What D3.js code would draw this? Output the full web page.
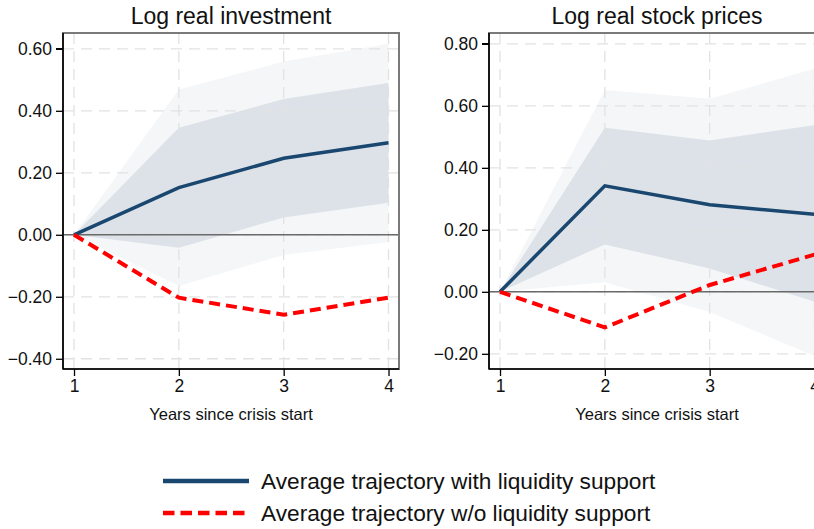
<!DOCTYPE html>
<html>
<head>
<meta charset="utf-8">
<script src="https://cdn.jsdelivr.net/npm/d3@7"></script>
<style>
  body { margin: 0; background: #fff; }
  svg { display: block; font-family: "Liberation Sans", Arial, sans-serif; }
</style>
</head>
<body>
<div id="chart"></div>
<script>
// years since crisis start
const years = [1, 2, 3, 4];

// Log real investment
const invWith = [0, 0.152, 0.247, 0.297];
const invWithout = [0, -0.203, -0.258, -0.203];
const invInnerLo = [0, -0.042, 0.056, 0.103];
const invInnerHi = [0, 0.345, 0.438, 0.49];
const invOuterLo = [0, -0.165, -0.065, -0.023];
const invOuterHi = [0, 0.469, 0.559, 0.616];
const invTicks = [-0.4, -0.2, 0, 0.2, 0.4, 0.6];

// Log real stock prices
const stkWith = [0, 0.342, 0.281, 0.25];
const stkWithout = [0, -0.115, 0.022, 0.12];
const stkInnerLo = [0, 0.153, 0.075, -0.032];
const stkInnerHi = [0, 0.529, 0.488, 0.538];
const stkOuterLo = [0, 0.031, -0.065, -0.207];
const stkOuterHi = [0, 0.651, 0.623, 0.72];
const stkTicks = [-0.2, 0, 0.2, 0.4, 0.6, 0.8];

const legendLabels = ["Average trajectory with liquidity support", "Average trajectory w/o liquidity support"];

const navy = "#1a476f", red = "#ff0000";

var svg = d3.select("#chart").append("svg")
  .attr("width", 814).attr("height", 529);

var panels = [
  { id: "inv", title: "Log real investment", left: 63, ydom: [-0.433, 0.651], ticks: invTicks,
    withS: invWith, without: invWithout, innerLo: invInnerLo, innerHi: invInnerHi, outerLo: invOuterLo, outerHi: invOuterHi },
  { id: "stk", title: "Log real stock prices", left: 489, ydom: [-0.249, 0.835], ticks: stkTicks,
    withS: stkWith, without: stkWithout, innerLo: stkInnerLo, innerHi: stkInnerHi, outerLo: stkOuterLo, outerHi: stkOuterHi }
];

var plotTop = 33, plotBottom = 369, pw = 336;

panels.forEach(function (p) {
  var x = d3.scaleLinear().domain([0.895, 4.1]).range([p.left, p.left + pw]);
  var y = d3.scaleLinear().domain(p.ydom).range([plotBottom, plotTop]);

  svg.append("clipPath").attr("id", "clip-" + p.id)
    .append("rect").attr("x", p.left).attr("y", plotTop).attr("width", pw).attr("height", plotBottom - plotTop);

  var g = svg.append("g").attr("clip-path", "url(#clip-" + p.id + ")");

  var band = function (lo, hi) {
    return d3.area()
      .x(function (d, i) { return x(years[i]); })
      .y0(function (d, i) { return y(lo[i]); })
      .y1(function (d, i) { return y(hi[i]); })(years);
  };
  g.append("path").attr("d", band(p.outerLo, p.outerHi)).attr("fill", "#f4f6f8");
  g.append("path").attr("d", band(p.innerLo, p.innerHi)).attr("fill", "#dce2e8");

  // grid
  g.selectAll(".hgrid").data(p.ticks).enter().append("line")
    .attr("x1", p.left).attr("x2", p.left + pw)
    .attr("y1", function (d) { return y(d); }).attr("y2", function (d) { return y(d); })
    .attr("stroke", "#e2e2e2").attr("stroke-width", 1.3).attr("stroke-dasharray", "11,7");
  g.selectAll(".vgrid").data(years).enter().append("line")
    .attr("y1", plotTop).attr("y2", plotBottom)
    .attr("x1", function (d) { return x(d); }).attr("x2", function (d) { return x(d); })
    .attr("stroke", "#e2e2e2").attr("stroke-width", 1.3).attr("stroke-dasharray", "11,7");

  // zero line
  g.append("line").attr("x1", p.left).attr("x2", p.left + pw)
    .attr("y1", y(0)).attr("y2", y(0))
    .attr("stroke", "#6a6a6a").attr("stroke-width", 1.6);

  var line = function (vals) {
    return d3.line().x(function (d, i) { return x(years[i]); }).y(function (d) { return y(d); })(vals);
  };
  g.append("path").attr("d", line(p.withS)).attr("fill", "none")
    .attr("stroke", navy).attr("stroke-width", 3.5);
  g.append("path").attr("d", line(p.without)).attr("fill", "none")
    .attr("stroke", red).attr("stroke-width", 4).attr("stroke-dasharray", "11,6");

  // frame: gray top/right, black axes
  svg.append("rect").attr("x", p.left).attr("y", plotTop).attr("width", pw).attr("height", plotBottom - plotTop)
    .attr("fill", "none").attr("stroke", "#7a7a7a").attr("stroke-width", 2);

  var yAxis = svg.append("g").attr("transform", "translate(" + p.left + ",0)")
    .call(d3.axisLeft(y).tickValues(p.ticks).tickFormat(d3.format(".2f")).tickSize(7).tickPadding(4));
  var xAxis = svg.append("g").attr("transform", "translate(0," + plotBottom + ")")
    .call(d3.axisBottom(x).tickValues(years).tickFormat(d3.format("d")).tickSize(7).tickPadding(4));
  [yAxis, xAxis].forEach(function (a) {
    a.select(".domain").attr("stroke", "#000").attr("stroke-width", 1.6);
    a.selectAll(".tick line").attr("stroke", "#000").attr("stroke-width", 1.3);
    a.selectAll("text").attr("font-size", "17.5px").attr("fill", "#111")
      .attr("font-family", "Liberation Sans, Arial, sans-serif");
  });
  // only left and bottom drawn black; keep the gray top/right
  yAxis.select(".domain").attr("d", "M-7," + y(p.ticks[p.ticks.length - 1]) + "H0V" + plotTop + "V" + plotBottom + "H0");
  xAxis.select(".domain").attr("d", "M" + p.left + ",0H" + (p.left + pw));

  svg.append("text").attr("x", p.left + pw / 2).attr("y", 24)
    .attr("text-anchor", "middle").attr("font-size", "23px").attr("fill", "#111")
    .text(p.title);
  svg.append("text").attr("x", p.left + pw / 2).attr("y", 420)
    .attr("text-anchor", "middle").attr("font-size", "16.5px").attr("fill", "#111")
    .text("Years since crisis start");
});

// legend
var legend = svg.append("g");
legend.append("line").attr("x1", 163).attr("x2", 249).attr("y1", 481).attr("y2", 481)
  .attr("stroke", navy).attr("stroke-width", 4.5);
legend.append("line").attr("x1", 163).attr("x2", 249).attr("y1", 513).attr("y2", 513)
  .attr("stroke", red).attr("stroke-width", 4.5).attr("stroke-dasharray", "11.5,6");
legend.selectAll(".lab").data(legendLabels).enter().append("text")
  .attr("x", 261).attr("y", function (d, i) { return 489 + i * 32; })
  .attr("font-size", "22.7px").attr("fill", "#111")
  .text(function (d) { return d; });
</script>
</body>
</html>
